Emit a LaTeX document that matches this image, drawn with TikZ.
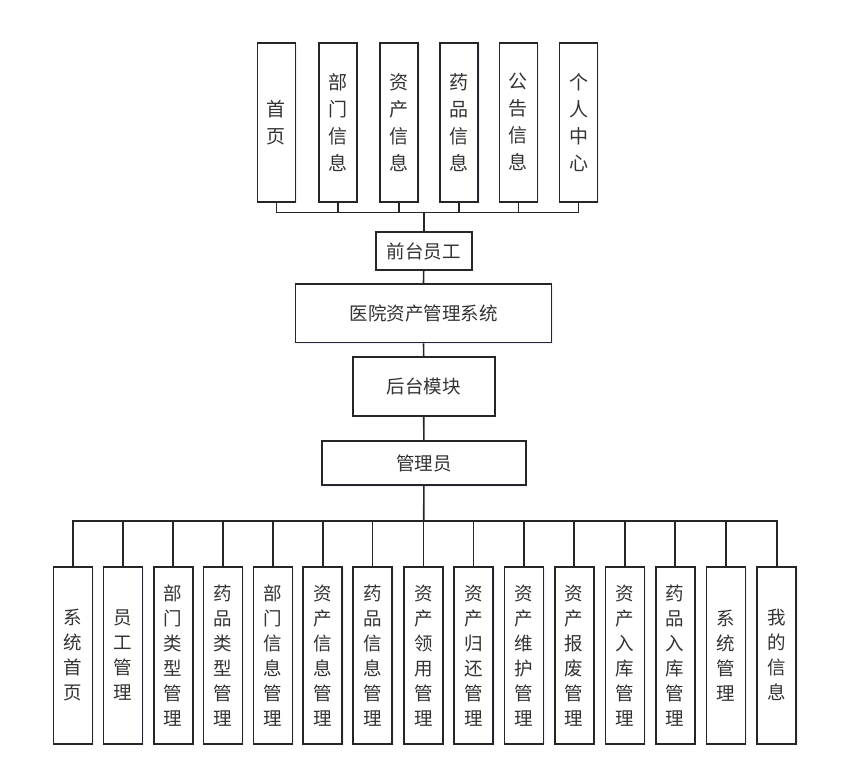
\documentclass[tikz,border=0pt]{standalone}
\usepackage{fontspec}
\setmainfont{Noto Sans CJK SC}
\usetikzlibrary{shadows}
\begin{document}
\begin{tikzpicture}[x=1pt,y=1pt,
  box/.style={draw=black!85,line width=1.6pt,fill=white,inner sep=0pt,text=black!80,
    drop shadow={fill=blue!10,opacity=0.6,shadow xshift=1.5pt,shadow yshift=-1.5pt}},
  topbox/.style={box,minimum width=38,minimum height=159,align=center,
    font=\fontsize{19}{27}\selectfont},
  lowbox/.style={box,minimum width=39,minimum height=177,align=center,
    font=\fontsize{18.5}{25}\selectfont},
  midbox/.style={box,font=\fontsize{18.5}{22}\selectfont},
  link/.style={draw=black!85,line width=1.6pt}]
\useasboundingbox (0,0) rectangle (842,780);
% front end
\draw(276.3,657.7) node[topbox] (t1) {首\\页};
\draw(337.9,657.7) node[topbox] (t2) {部\\门\\信\\息};
\draw(399.2,657.7) node[topbox] (t3) {资\\产\\信\\息};
\draw(459.0,657.7) node[topbox] (t4) {药\\品\\信\\息};
\draw(518.3,657.7) node[topbox] (t5) {公\\告\\信\\息};
\draw(578.5,657.7) node[topbox] (t6) {个\\人\\中\\心};
\coordinate (topbus) at (423.7,567.3);
\draw(423.7,529.0) node[midbox,minimum width=96,minimum height=38] (qt) {前台员工};
\draw(423.5,466.7) node[midbox,minimum width=256,minimum height=58.5] (sys) {医院资产管理系统};
\draw(423.7,393.7) node[midbox,minimum width=142,minimum height=59] (ht) {后台模块};
\draw(423.9,317.0) node[midbox,minimum width=204,minimum height=44.5] (adm) {管理员};
\coordinate (lowbus) at (423.7,259.3);
% back end
\draw(72.8,124.7) node[lowbox] (b1) {系\\统\\首\\页};
\draw(122.8,124.7) node[lowbox] (b2) {员\\工\\管\\理};
\draw(173.2,124.7) node[lowbox] (b3) {部\\门\\类\\型\\管\\理};
\draw(223.0,124.7) node[lowbox] (b4) {药\\品\\类\\型\\管\\理};
\draw(272.8,124.7) node[lowbox] (b5) {部\\门\\信\\息\\管\\理};
\draw(322.7,124.7) node[lowbox] (b6) {资\\产\\信\\息\\管\\理};
\draw(372.5,124.7) node[lowbox] (b7) {药\\品\\信\\息\\管\\理};
\draw(423.3,124.7) node[lowbox] (b8) {资\\产\\领\\用\\管\\理};
\draw(473.5,124.7) node[lowbox] (b9) {资\\产\\归\\还\\管\\理};
\draw(523.8,124.7) node[lowbox] (b10) {资\\产\\维\\护\\管\\理};
\draw(574.2,124.7) node[lowbox] (b11) {资\\产\\报\\废\\管\\理};
\draw(624.8,124.7) node[lowbox] (b12) {资\\产\\入\\库\\管\\理};
\draw(675.2,124.7) node[lowbox] (b13) {药\\品\\入\\库\\管\\理};
\draw(725.8,124.7) node[lowbox] (b14) {系\\统\\管\\理};
\draw(776.7,124.7) node[lowbox] (b15) {我\\的\\信\\息};
% connectors
\draw[link] (t1.south) |- (topbus) -| (t6.south);
\draw[link] (t2.south) -- (t2.south |- topbus);
\draw[link] (t3.south) -- (t3.south |- topbus);
\draw[link] (t4.south) -- (t4.south |- topbus);
\draw[link] (t5.south) -- (t5.south |- topbus);
\draw[link] (topbus) -- (qt.north);
\draw[link] (qt.south) -- (sys.north);
\draw[link] (sys.south) -- (ht.north);
\draw[link] (ht.south) -- (adm.north);
\draw[link] (adm.south) -- (lowbus);
\draw[link] (b1.north) |- (lowbus) -| (b15.north);
\draw[link] (b2.north) -- (b2.north |- lowbus);
\draw[link] (b3.north) -- (b3.north |- lowbus);
\draw[link] (b4.north) -- (b4.north |- lowbus);
\draw[link] (b5.north) -- (b5.north |- lowbus);
\draw[link] (b6.north) -- (b6.north |- lowbus);
\draw[link] (b7.north) -- (b7.north |- lowbus);
\draw[link] (b8.north) -- (b8.north |- lowbus);
\draw[link] (b9.north) -- (b9.north |- lowbus);
\draw[link] (b10.north) -- (b10.north |- lowbus);
\draw[link] (b11.north) -- (b11.north |- lowbus);
\draw[link] (b12.north) -- (b12.north |- lowbus);
\draw[link] (b13.north) -- (b13.north |- lowbus);
\draw[link] (b14.north) -- (b14.north |- lowbus);
\end{tikzpicture}
\end{document}
